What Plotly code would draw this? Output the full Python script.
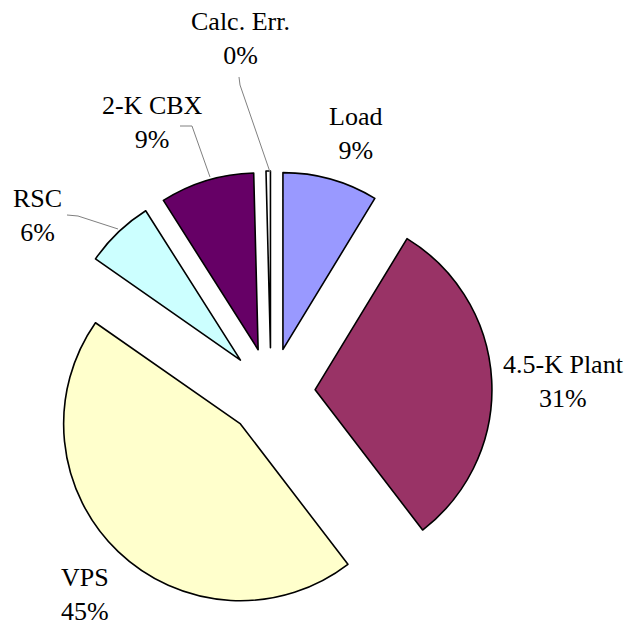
import plotly.graph_objects as go

# Data
labels = ["Load", "4.5-K Plant", "VPS", "RSC", "2-K CBX", "Calc. Err."]
values = [8.7, 30.9, 45.1, 6.3, 8.6, 0.4]
colors = ["#9999FF", "#993366", "#FFFFCC", "#CCFFFF", "#660066", "#FFFFFF"]
pulls = [0.25, 0.25, 0.25, 0.25, 0.25, 0.25]

W, H = 637, 634
OFF = 8  # page body margin offset compensation

def px(x):
    return (x - OFF) / W

def py(y):
    return 1 - (y - OFF) / H

# pie centre / half-size in screen pixels
CX, CY, HALF = 271, 392, 221

fig = go.Figure(go.Pie(
    labels=labels,
    values=values,
    sort=False,
    direction="clockwise",
    rotation=0,
    pull=pulls,
    marker=dict(colors=colors, line=dict(color="black", width=1.6)),
    textinfo="none",
    hoverinfo="label+percent",
    showlegend=False,
    domain=dict(x=[px(CX - HALF), px(CX + HALF)],
                y=[py(CY + HALF), py(CY - HALF)]),
))

total = sum(values)
label_pos = {
    "Load": (355, 133),
    "4.5-K Plant": (563, 381),
    "VPS": (85, 594),
    "RSC": (37, 216),
    "2-K CBX": (152, 122),
    "Calc. Err.": (240, 38),
}
FONT = "Liberation Serif"
annotations = []
for name, v in zip(labels, values):
    pct = int(v / total * 100 + 0.5)
    x, y = label_pos[name]
    annotations.append(dict(
        x=px(x), y=py(y), xref="paper", yref="paper",
        text=f"{name}<br>{pct}%", showarrow=False,
        xanchor="center", yanchor="middle", align="center",
        font=dict(family=FONT, size=26, color="black"),
    ))

# leader lines (decorative)
leaders = [
    [(239, 77), (240, 85), (270, 172)],
    [(180, 126), (192, 126), (210, 177)],
    [(67, 215), (78, 216), (118, 229)],
]
shapes = []
for pts in leaders:
    path = "M " + " L ".join(f"{px(x):.5f},{py(y):.5f}" for x, y in pts)
    shapes.append(dict(type="path", xref="paper", yref="paper", path=path,
                       line=dict(color="#808080", width=1)))

fig.update_layout(
    width=W, height=H,
    margin=dict(l=0, r=0, t=0, b=0),
    paper_bgcolor="white", plot_bgcolor="white",
    font=dict(family=FONT),
    annotations=annotations,
    shapes=shapes,
)

fig.write_html("out.html")
